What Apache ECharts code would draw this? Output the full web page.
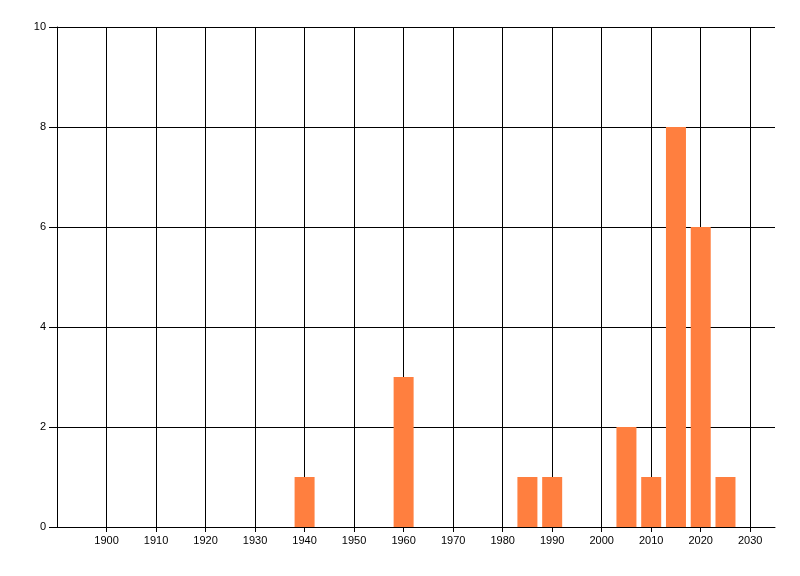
<!DOCTYPE html>
<html>
<head>
<meta charset="utf-8">
<script src="https://cdn.jsdelivr.net/npm/echarts@6/dist/echarts.min.js"></script>
<style>html,body{margin:0;padding:0;background:#fff}#c{width:800px;height:576px}</style>
</head>
<body>
<div id="c"></div>
<script>
const years = [1940, 1960, 1985, 1990, 2005, 2010, 2015, 2020, 2025];
const counts = [1, 3, 1, 1, 2, 1, 8, 6, 1];
const xTicks = [1900, 1910, 1920, 1930, 1940, 1950, 1960, 1970, 1980, 1990, 2000, 2010, 2020, 2030];
const yTicks = [0, 2, 4, 6, 8, 10];

const chart = echarts.init(document.getElementById('c'), null, {renderer: 'canvas'});
const font = {color: '#000', fontFamily: 'Liberation Sans', fontSize: 11};
chart.setOption({
  animation: false,
  backgroundColor: '#fff',
  grid: {left: 57, right: 25, top: 27, bottom: 49, containLabel: false},
  xAxis: {
    type: 'value', min: 1890, max: 2035, interval: 10,
    axisLine: {show: true, onZero: false, lineStyle: {color: '#000', width: 1}},
    axisTick: {show: true, length: 5, customValues: xTicks, lineStyle: {color: '#000'}},
    axisLabel: Object.assign({margin: 8, customValues: xTicks, formatter: v => String(v)}, font),
    splitLine: {show: true, showMinLine: true, showMaxLine: true, lineStyle: {color: '#000', width: 1}}
  },
  yAxis: {
    type: 'value', min: 0, max: 10, interval: 2,
    axisLine: {show: true, lineStyle: {color: '#000', width: 1}},
    axisTick: {show: true, length: 8, customValues: yTicks, lineStyle: {color: '#000'}},
    axisLabel: Object.assign({margin: 11, customValues: yTicks}, font),
    splitLine: {show: true, lineStyle: {color: '#000', width: 1}}
  },
  series: [{
    type: 'bar',
    data: years.map((y, i) => [y, counts[i]]),
    barWidth: 20,
    itemStyle: {color: '#FF7F3F'},
    z: 1
  }]
});
</script>
</body>
</html>
